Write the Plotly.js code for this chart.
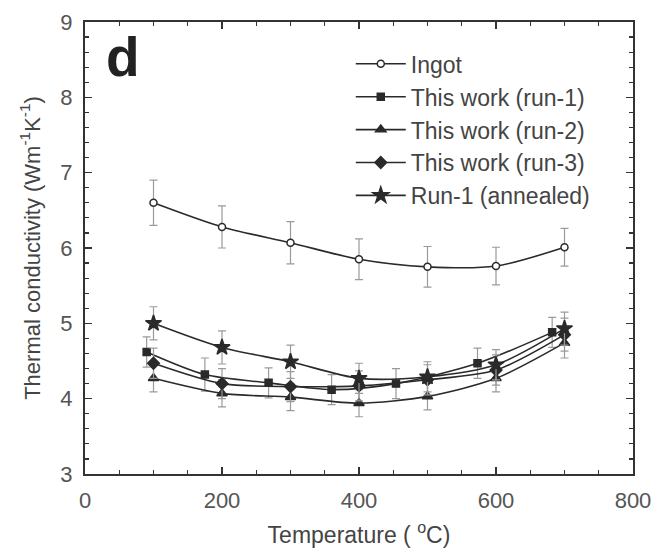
<!DOCTYPE html>
<html>
<head>
<meta charset="utf-8">
<script src="https://cdn.plot.ly/plotly-3.0.1.min.js"></script>
<style>html,body{margin:0;padding:0;background:#fff}#chart{width:653px;height:548px}</style>
</head>
<body>
<div id="chart"></div>
<script>
// Data
const temps = [100, 200, 300, 400, 500, 600, 700];
const ingotY = [6.60, 6.28, 6.07, 5.85, 5.75, 5.76, 6.01];
const ingotErr = [0.30, 0.28, 0.28, 0.27, 0.27, 0.25, 0.25];

const run1X = [90, 175, 268, 360, 454, 573, 682];
const run1Y = [4.62, 4.32, 4.21, 4.12, 4.20, 4.47, 4.88];
const run1Err = [0.20, 0.22, 0.20, 0.20, 0.20, 0.20, 0.20];

const run2Y = [4.27, 4.07, 4.02, 3.94, 4.03, 4.27, 4.74];
const run2Err = [0.18, 0.18, 0.18, 0.18, 0.18, 0.18, 0.20];

const run3Y = [4.47, 4.20, 4.16, 4.17, 4.25, 4.38, 4.85];
const run3Err = [0.20, 0.20, 0.20, 0.20, 0.20, 0.20, 0.22];

const annealY = [5.00, 4.68, 4.49, 4.27, 4.29, 4.45, 4.93];
const annealErr = [0.22, 0.22, 0.22, 0.20, 0.20, 0.20, 0.22];

const names = ['Ingot', 'This work (run-1)', 'This work (run-2)', 'This work (run-3)', 'Run-1 (annealed)'];

const lineCol = '#2a2a2a';
const errCol = '#9a9a9a';
function series(x, y, err, name, sym, size, fill) {
  return {
    x: x, y: y, name: name, type: 'scatter', mode: 'lines+markers',
    line: {color: lineCol, width: 1.6, shape: 'spline', smoothing: 0.8},
    marker: {symbol: sym, size: size, color: fill, line: {color: lineCol, width: 1.5}},
    error_y: {type: 'data', array: err, visible: true, color: errCol, thickness: 1.2, width: 4}
  };
}
const data = [
  series(temps, ingotY, ingotErr, names[0], 'circle', 7, '#ffffff'),
  series(run1X, run1Y, run1Err, names[1], 'square', 7, lineCol),
  series(temps, run2Y, run2Err, names[2], 'triangle-up', 9, lineCol),
  series(temps, run3Y, run3Err, names[3], 'diamond', 9, lineCol),
  series(temps, annealY, annealErr, names[4], 'star', 12, lineCol)
];

const axisCommon = {
  showline: true, linecolor: '#333', linewidth: 2, mirror: 'ticks',
  ticks: 'inside', ticklen: 7, tickwidth: 1.5, tickcolor: '#333',
  showgrid: false, zeroline: false,
  tickfont: {family: 'Liberation Sans, Arial, sans-serif', size: 22, color: '#555'}
};
const layout = {
  width: 653, height: 548,
  margin: {l: 85, r: 20, t: 22, b: 74},
  paper_bgcolor: '#fff', plot_bgcolor: '#fff',
  showlegend: true,
  font: {family: 'Liberation Sans, Arial, sans-serif', color: '#444'},
  xaxis: Object.assign({}, axisCommon, {
    range: [0, 800], dtick: 200, tick0: 0,
    ticklabelstandoff: 6,
    minor: {dtick: 50, ticks: 'inside', ticklen: 4, tickcolor: '#333', tickwidth: 1.2},
    title: {text: 'Temperature ( <sup>o</sup>C)', font: {size: 23, color: '#444'}, standoff: 14}
  }),
  yaxis: Object.assign({}, axisCommon, {
    range: [3, 9], dtick: 1, tick0: 3,
    ticklabelstandoff: 6,
    minor: {dtick: 0.2, ticks: 'inside', ticklen: 4, tickcolor: '#333', tickwidth: 1.2},
    title: {text: 'Thermal conductivity (Wm<sup>-1</sup>K<sup>-1</sup>)', font: {size: 22, color: '#444'}, standoff: 14}
  }),
  legend: {
    x: 0.485, y: 0.955, xanchor: 'left', yanchor: 'top',
    bgcolor: 'rgba(0,0,0,0)', borderwidth: 0,
    font: {size: 23, color: '#444'},
    itemwidth: 50, tracegroupgap: 0
  },
  annotations: [{
    text: '<b>d</b>', xref: 'paper', yref: 'paper', x: 0.035, y: 0.995,
    xanchor: 'left', yanchor: 'top', showarrow: false,
    font: {size: 55, color: '#222', family: 'Liberation Sans, Arial, sans-serif'}
  }]
};
Plotly.newPlot('chart', data, layout, {displayModeBar: false, staticPlot: true});
</script>
</body>
</html>
